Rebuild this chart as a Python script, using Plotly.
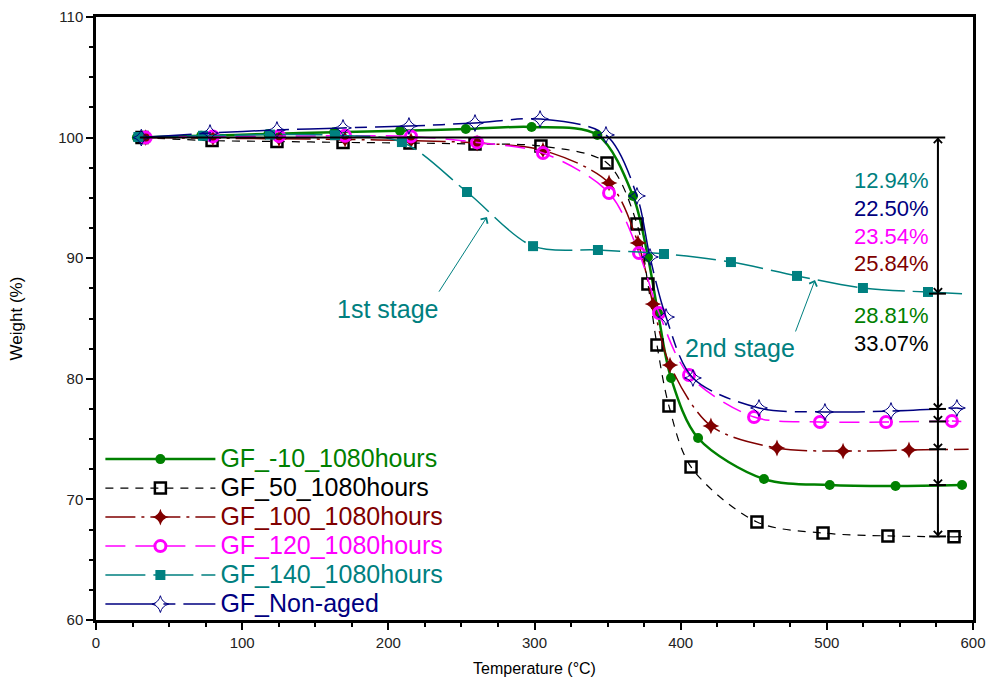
import plotly.graph_objects as go

# ---------------- data ----------------
series_names = ["GF_-10_1080hours", "GF_50_1080hours", "GF_100_1080hours",
                "GF_120_1080hours", "GF_140_1080hours", "GF_Non-aged"]

temp_m10 = [28, 72, 118, 163, 208, 253, 298, 343, 367.4, 377.6, 384.5, 393.4, 411.9, 457, 502, 547, 592.5]
wt_m10 = [100.0, 100.15, 100.3, 100.45, 100.57, 100.71, 100.88, 100.22, 95.16, 90.1, 85.46, 80.07, 75.09, 71.69, 71.19, 71.11, 71.19]

temp_50 = [31.5, 79.4, 123.8, 169, 214.8, 259.3, 304.4, 349.6, 370.1, 377.6, 383.8, 392, 407.1, 452.2, 497.4, 541.8, 587]
wt_50 = [100.0, 99.75, 99.68, 99.6, 99.55, 99.47, 99.3, 97.89, 92.84, 87.86, 82.8, 77.74, 72.69, 68.13, 67.21, 66.97, 66.9]

temp_100 = [34, 80, 125.2, 170.4, 215.5, 260.7, 305.8, 351, 370.8, 381.1, 392.7, 420.7, 465.9, 511.1, 556.2]
wt_100 = [100.0, 99.95, 99.9, 99.85, 99.75, 99.55, 98.95, 96.24, 91.26, 86.2, 81.14, 76.09, 74.26, 74.01, 74.1]

temp_120 = [34, 80, 125.2, 170.4, 215.5, 260.7, 305.8, 351, 371.5, 385.2, 405.7, 450.2, 495.3, 540.5, 585.6]
wt_120 = [100.0, 100.1, 100.12, 100.15, 100.1, 99.6, 98.72, 95.41, 90.43, 85.46, 80.31, 76.83, 76.42, 76.42, 76.5]

temp_140 = [29, 73.2, 119, 163.5, 209.3, 253.8, 299, 343.4, 388.6, 434.4, 479.6, 524.7, 569.2]
wt_140 = [100.05, 100.15, 100.25, 100.2, 99.63, 95.49, 91.0, 90.68, 90.35, 89.68, 88.53, 87.53, 87.2]

temp_na = [31, 78, 123.8, 169, 214.1, 259.3, 303.8, 348.9, 370.1, 379, 390, 408.4, 453.6, 498.7, 543.9, 589]
wt_na = [100.0, 100.38, 100.63, 100.8, 100.96, 101.21, 101.54, 100.22, 95.16, 90.1, 85.12, 80.07, 77.58, 77.25, 77.33, 77.58]

# temperature where each curve ends (beyond its last marker)
end_temp = [592.5, 595, 597, 592, 592.5, 593]

# weight loss labels (percent) per series
loss_pct = [28.81, 33.07, 25.84, 23.54, 12.94, 22.50]

x_ticks = [0, 100, 200, 300, 400, 500, 600]
y_ticks = [60, 70, 80, 90, 100, 110]

# ---------------- styles ----------------
colors = ["#008000", "#000000", "#800000", "#FF00FF", "#008080", "#000080"]
dashes = ["solid", "8px,7px", "30px,6px,3px,6px", "20px,10px", "40px,8px", "50px,8px,12px,8px"]
widths = [2.5, 1.2, 1.5, 1.5, 1.5, 1.5]
markers = [
    dict(symbol="circle", size=10, color=colors[0], line=dict(width=0)),
    dict(symbol="square-open", size=11, color=colors[1], line=dict(width=2.5)),
    dict(symbol="star-diamond", size=12, color=colors[2], line=dict(width=0)),
    dict(symbol="circle-open", size=11, color=colors[3], line=dict(width=3)),
    dict(symbol="square", size=10, color=colors[4], line=dict(width=0)),
    dict(symbol="star-diamond-open", size=12, color=colors[5], line=dict(width=1)),
]

temps = [temp_m10, temp_50, temp_100, temp_120, temp_140, temp_na]
wts = [wt_m10, wt_50, wt_100, wt_120, wt_140, wt_na]
final_wt = [100 - l for l in loss_pct]

FONT = "Arial, Liberation Sans, sans-serif"

fig = go.Figure()
for i in range(6):
    # tail of the curve after the last marker
    fig.add_trace(go.Scatter(
        x=[temps[i][-1], end_temp[i]], y=[wts[i][-1], final_wt[i]],
        mode="lines", line=dict(color=colors[i], width=widths[i], dash=dashes[i]),
        showlegend=False, hoverinfo="skip"))
    fig.add_trace(go.Scatter(
        x=temps[i], y=wts[i], mode="lines+markers",
        name='<span style="font-size:25px;color:%s">%s</span>' % (colors[i], series_names[i]),
        line=dict(color=colors[i], width=widths[i], dash=dashes[i], shape="spline", smoothing=0.9),
        marker=markers[i]))

# ---------------- decorations ----------------
x_arrow = 576
shapes = [
    dict(type="line", xref="x", yref="y", x0=30, x1=581, y0=100, y1=100,
         line=dict(color="black", width=2)),
    dict(type="line", xref="x", yref="y", x0=x_arrow, x1=x_arrow, y0=100, y1=min(final_wt),
         line=dict(color="black", width=2)),
]
annotations = []
for fw in final_wt:
    shapes.append(dict(type="line", xref="x", yref="y", x0=x_arrow - 6, x1=x_arrow + 5.5,
                       y0=fw, y1=fw, line=dict(color="black", width=2)))
    annotations.append(dict(x=x_arrow, y=fw, xref="x", yref="y", ax=x_arrow, ay=fw + 2,
                            axref="x", ayref="y", text="", showarrow=True, arrowhead=4,
                            arrowsize=1.6, arrowwidth=1, arrowcolor="black"))
annotations.append(dict(x=x_arrow, y=100, xref="x", yref="y", ax=x_arrow, ay=98,
                        axref="x", ayref="y", text="", showarrow=True, arrowhead=4,
                        arrowsize=1.6, arrowwidth=1, arrowcolor="black"))

# percentage labels (top to bottom order)
label_order = [4, 5, 3, 2, 0, 1]
label_y = [96.48, 94.16, 91.76, 89.52, 85.21, 82.89]
for k, i in enumerate(label_order):
    annotations.append(dict(x=571.5, y=label_y[k], xref="x", yref="y", text="%.2f%%" % loss_pct[i],
                            showarrow=False, xanchor="right", yanchor="middle",
                            font=dict(family=FONT, size=22, color=colors[i])))

# stage labels
teal = colors[4]
annotations += [
    dict(x=199.1, y=85.79, xref="x", yref="y", text="1st stage", showarrow=False,
         font=dict(family=FONT, size=25, color=teal)),
    dict(x=267.5, y=93.42, ax=234.0, ay=87.1, xref="x", yref="y", axref="x", ayref="y",
         text="", showarrow=True, arrowhead=4, arrowsize=1.6, arrowwidth=1, arrowcolor=teal),
    dict(x=440.6, y=82.55, xref="x", yref="y", text="2nd stage", showarrow=False,
         font=dict(family=FONT, size=25, color=teal)),
    dict(x=491.9, y=88.19, ax=478.2, ay=83.8, xref="x", yref="y", axref="x", ayref="y",
         text="", showarrow=True, arrowhead=4, arrowsize=1.6, arrowwidth=1, arrowcolor=teal),
]

axis_common = dict(showline=True, linecolor="black", linewidth=2.5, mirror=True,
                   ticks="outside", ticklen=7, tickwidth=1.5, tickcolor="black",
                   showgrid=False, zeroline=False, automargin=False,
                   tickfont=dict(family=FONT, size=15, color="#222"))

fig.update_layout(
    width=1002, height=680,
    margin=dict(l=96, r=29, t=17, b=60),
    paper_bgcolor="white", plot_bgcolor="white",
    font=dict(family=FONT, color="black"),
    xaxis=dict(range=[0, 600], tickvals=x_ticks,
               minor=dict(dtick=25, ticks="outside", ticklen=4, tickwidth=1.5, tickcolor="black"),
               title=dict(text="Temperature (°C)", font=dict(family=FONT, size=16), standoff=14),
               **axis_common),
    yaxis=dict(range=[60, 110], tickvals=y_ticks,
               minor=dict(dtick=2.5, ticks="outside", ticklen=4, tickwidth=1.5, tickcolor="black"),
               title=dict(text="Weight (%)", font=dict(family=FONT, size=17), standoff=32),
               **axis_common),
    legend=dict(x=0.005, y=-0.006, xanchor="left", yanchor="bottom",
                bgcolor="rgba(0,0,0,0)", font=dict(family=FONT, size=20),
                itemwidth=110, tracegroupgap=0),
    shapes=shapes, annotations=annotations,
)

fig.write_html("out.html")
